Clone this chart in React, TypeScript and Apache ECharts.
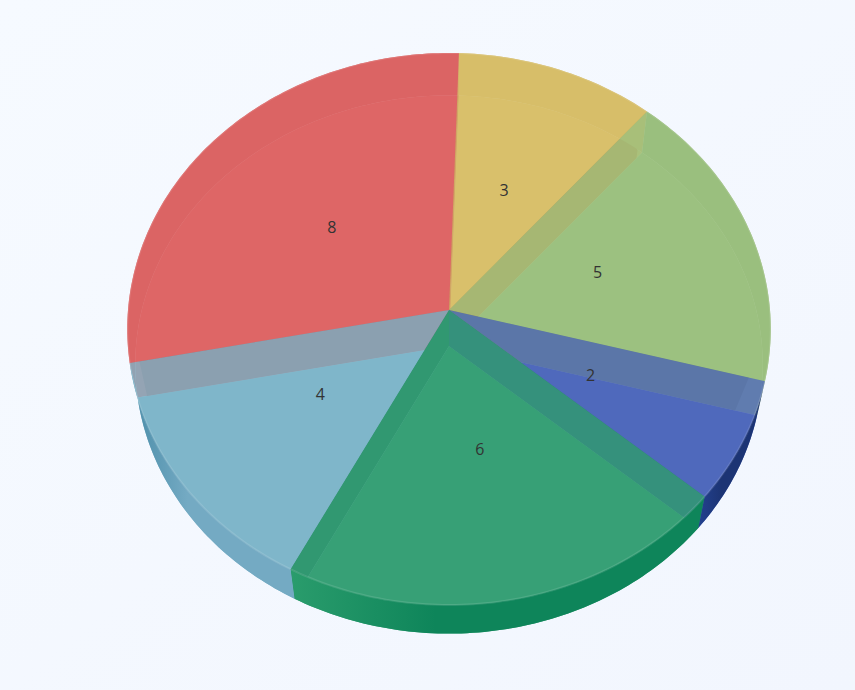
import React, { useEffect, useRef } from "react";
import * as echarts from "echarts";

const sliceNames = ["a", "b", "c", "d", "e", "f"];
const sliceValues = [8, 3, 5, 2, 6, 4];
const sliceColors = ["#de6666", "#d8c06b", "#9cc180", "#4f69bc", "#37a076", "#7fb6ca"];
const radialWallColors = ["#b65252", "#b84848", "#c89144", "#84a45f", "#2d5b91", "#1c7c60"];
const radialReachTop = [0.97, 1, 0.97, 0.95, 1, 1];
const radialReachBottom = [0.97, 1, 0.97, 0.93, 1, 1];
const outerWallLeft = ["#d25e5e", "#cfb460", "#92b476", "#23418f", "#2a9c6c", "#4a8ca8"];
const outerWallRight = ["#d25e5e", "#cfb460", "#92b476", "#1c3474", "#0e855a", "#74aac3"];

const START_DEG = 190.96;
const TOTAL = sliceValues.reduce((s, v) => s + v, 0);
const K = 0.0688;
const TOP = { cx: 449, cy: 310, ax: 321, ay: 274.7 };
const BOTTOM = { cx: 449, cy: 346, ax: 313, ay: 267.8 };

type Plane = typeof TOP;

function project(plane: Plane, r: number, deg: number): number[] {
  const a = (deg * Math.PI) / 180;
  const X = r * Math.cos(a);
  const Y = -r * Math.sin(a);
  const w = 1 - K * Y;
  return [plane.cx + (plane.ax * X) / w, plane.cy + (plane.ay * Y) / w];
}

function sliceRange(i: number): [number, number] {
  let before = 0;
  for (let j = 0; j < i; j++) before += sliceValues[j];
  const s = START_DEG - (before / TOTAL) * 360;
  return [s, s - (sliceValues[i] / TOTAL) * 360];
}

function arc(plane: Plane, from: number, to: number): number[][] {
  const n = Math.max(2, Math.ceil(Math.abs(to - from)));
  const pts: number[][] = [];
  for (let i = 0; i <= n; i++) pts.push(project(plane, 1, from + ((to - from) * i) / n));
  return pts;
}

function sector(plane: Plane, from: number, to: number): number[][] {
  return [[plane.cx, plane.cy], ...arc(plane, from, to)];
}

function bottomLayer(params: any) {
  const i = params.dataIndex;
  const [a0, a1] = sliceRange(i);
  return {
    type: "polygon",
    silent: true,
    shape: { points: sector(BOTTOM, a0, a1) },
    style: { fill: sliceColors[i] },
  };
}

function outerWallLayer(params: any) {
  const i = params.dataIndex;
  const [a0, a1] = sliceRange(i);
  return {
    type: "polygon",
    silent: true,
    shape: { points: [...arc(TOP, a0, a1), ...arc(BOTTOM, a1, a0)] },
    style: {
      fill: {
        type: "linear",
        x: 0,
        y: 0,
        x2: 1,
        y2: 0,
        colorStops: [
          { offset: 0, color: outerWallLeft[i] },
          { offset: 0.35, color: outerWallRight[i] },
          { offset: 1, color: outerWallRight[i] },
        ],
      },
    },
  };
}

function radialWallLayer(params: any) {
  const i = params.dataIndex;
  const [a0] = sliceRange(i);
  return {
    type: "polygon",
    silent: true,
    shape: {
      points: [
        [TOP.cx, TOP.cy],
        project(TOP, radialReachTop[i], a0),
        project(BOTTOM, radialReachBottom[i], a0),
        [BOTTOM.cx, BOTTOM.cy],
      ],
    },
    style: { fill: radialWallColors[i] },
  };
}

function topLayer(params: any) {
  const i = params.dataIndex;
  const [a0, a1] = sliceRange(i);
  return {
    type: "group",
    silent: true,
    children: [
      {
        type: "polygon",
        shape: { points: sector(TOP, a0, a1) },
        style: { fill: sliceColors[i], opacity: 0.78 },
      },
      {
        type: "polyline",
        shape: { points: arc(TOP, a0, a1) },
        style: { fill: "none", stroke: "rgba(255,255,255,0.12)", lineWidth: 2 },
      },
    ],
  };
}

function labelLayer(params: any) {
  const i = params.dataIndex;
  const [a0, a1] = sliceRange(i);
  const p = project(TOP, 0.49, (a0 + a1) / 2);
  return {
    type: "text",
    silent: true,
    x: p[0],
    y: p[1] + 2,
    style: {
      text: String(sliceValues[i]),
      fill: "#333",
      font: '16px "Open Sans", sans-serif',
      align: "center",
      verticalAlign: "middle",
    },
  };
}

const layers = [bottomLayer, radialWallLayer, outerWallLayer, topLayer, labelLayer];

export default function App() {
  const ref = useRef<HTMLDivElement>(null);
  useEffect(() => {
    document.body.style.margin = "0";
    const chart = echarts.init(ref.current!, undefined, { renderer: "svg" });
    chart.setOption({
      animation: false,
      backgroundColor: {
        type: "linear",
        x: 0,
        y: 0,
        x2: 1,
        y2: 1,
        colorStops: [
          { offset: 0, color: "#f6faff" },
          { offset: 1, color: "#f2f6fe" },
        ],
      },
      series: layers.map((renderItem, z) => ({
        type: "custom",
        coordinateSystem: "none",
        z: z + 1,
        silent: true,
        renderItem,
        data: sliceValues.map((value, i) => ({ name: sliceNames[i], value })),
      })),
    });
    return () => chart.dispose();
  }, []);
  return <div ref={ref} style={{ width: 855, height: 690 }} />;
}
